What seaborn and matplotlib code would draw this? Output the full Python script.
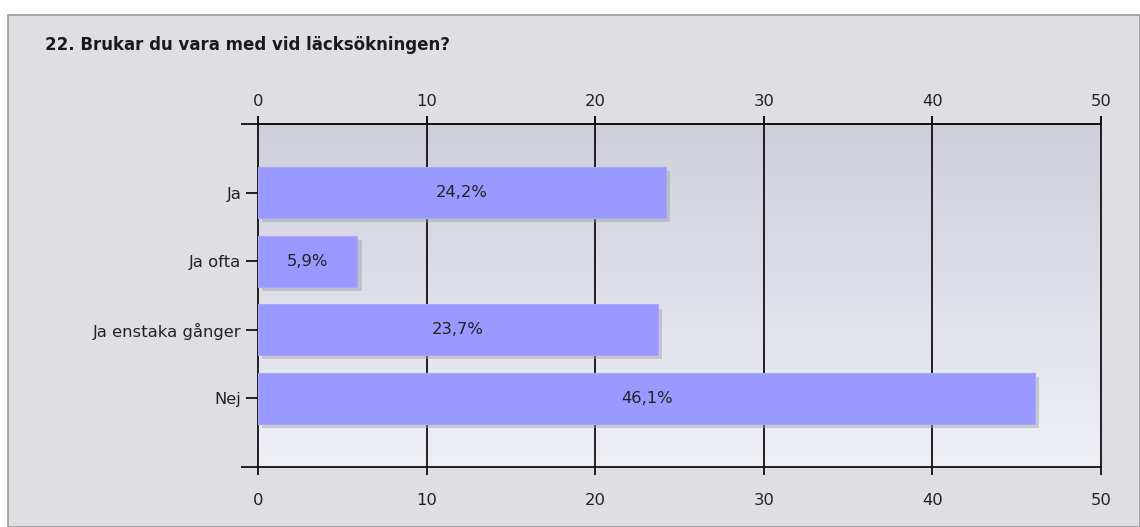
import numpy as np
import pandas as pd
import matplotlib
matplotlib.use("Agg")
import matplotlib.pyplot as plt
import matplotlib.patheffects as pe
from matplotlib.patches import Rectangle
from matplotlib.colors import LinearSegmentedColormap
import seaborn as sns

categories = ["Ja", "Ja ofta", "Ja enstaka gånger", "Nej"]
values = [24.2, 5.9, 23.7, 46.1]
labels = ["24,2%", "5,9%", "23,7%", "46,1%"]
xticks = [0, 10, 20, 30, 40, 50]
title = "22. Brukar du vara med vid läcksökningen?"

sns.set_style("white")
plt.rcParams['font.family'] = ['DejaVu Sans']

W, H = 1140, 527
fig = plt.figure(figsize=(W / 100, H / 100), dpi=100)
fig.patch.set_facecolor("white")

# outer panel
panel = Rectangle((8 / W, 0), 1 - 8 / W, (H - 15) / H, transform=fig.transFigure,
                  facecolor="#dfdee3", edgecolor="#9a9a9a", linewidth=1.2, zorder=-10)
fig.add_artist(panel)
fig.text(45 / W, 1 - 45 / H, title, fontsize=12, fontweight="bold", color="#1a1a1a",
         ha="left", va="center")

ax = fig.add_axes([258 / W, (H - 467) / H, (1101 - 258) / W, (467 - 124) / H])
ax.set_zorder(5)

df = pd.DataFrame({"cat": categories, "val": values})
sns.barplot(data=df, x="val", y="cat", orient="h", color="#9999ff", saturation=1,
            width=0.74, ax=ax, zorder=3)
for p in ax.patches:
    p.set_path_effects([pe.SimplePatchShadow(offset=(3, -3), shadow_rgbFace="#a0a0a8", alpha=0.45),
                        pe.Normal()])
    p.set_edgecolor("#a6a6ff")
    p.set_linewidth(0.8)

# gradient background
grad = np.linspace(0, 1, 256).reshape(-1, 1)
cmap = LinearSegmentedColormap.from_list("bg", ["#cfcfdc", "#efeff6"])
ax.imshow(grad, aspect="auto", cmap=cmap, extent=[0, 50, 4, -1], zorder=0)

ax.set_ylim(4, -1)
ax.set_xlim(0, 50)

for i, (v, lab) in enumerate(zip(values, labels)):
    ax.text(v / 2, i, lab, ha="center", va="center", fontsize=11.8, color="#222222", zorder=5)

# grid
for xv in xticks[1:-1]:
    ax.axvline(xv, color="#111111", linewidth=1.3, zorder=2)

ax.set_xticks(xticks)
ax.set_xticklabels([str(t) for t in xticks])
ax.tick_params(axis="x", which="both", top=True, bottom=True, labeltop=False, labelbottom=True,
               direction="out", length=6, width=1.3, color="#111111", labelsize=11.8, pad=13,
               labelcolor="#222222")
top = ax.secondary_xaxis("top")
top.set_xticks(xticks)
top.set_xticklabels([str(t) for t in xticks])
top.tick_params(axis="x", direction="out", length=6, width=1.3, color="#111111",
                labelsize=11.8, pad=5, labelcolor="#222222")
top.spines["top"].set_color("#111111")
top.spines["top"].set_linewidth(1.3)

ax.tick_params(axis="y", which="major", left=True, direction="out", length=9, width=1.3,
               color="#111111", labelsize=11.8, pad=3, labelcolor="#222222")
ax.set_yticks([-1, 4], minor=True)
ax.tick_params(axis="y", which="minor", left=True, direction="out", length=12, width=1.3,
               color="#111111")
ax.set_xlabel("")
ax.set_ylabel("")
for s in ax.spines.values():
    s.set_visible(True)
    s.set_color("#111111")
    s.set_linewidth(1.3)

fig.savefig("out.png", dpi=100)
